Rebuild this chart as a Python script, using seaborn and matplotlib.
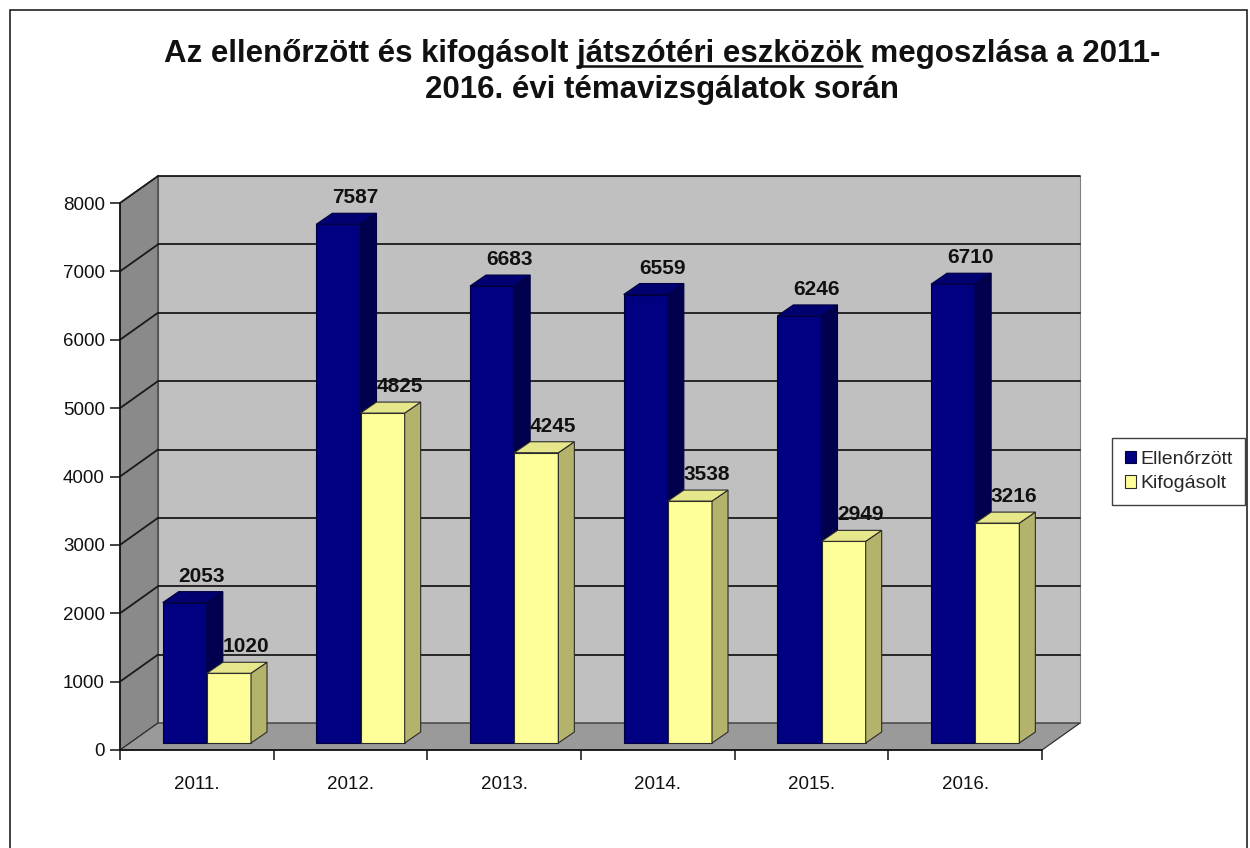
import matplotlib
matplotlib.use("Agg")
import matplotlib.pyplot as plt
from matplotlib.patches import Polygon, Rectangle, Patch
from matplotlib.lines import Line2D
import seaborn as sns
import pandas as pd

# ---- data ----
years = ["2011.", "2012.", "2013.", "2014.", "2015.", "2016."]
ellenorzott = [2053, 7587, 6683, 6559, 6246, 6710]
kifogasolt = [1020, 4825, 4245, 3538, 2949, 3216]
series_names = ["Ellenőrzött", "Kifogásolt"]
y_ticks = [0, 1000, 2000, 3000, 4000, 5000, 6000, 7000, 8000]
title_line1 = "Az ellenőrzött és kifogásolt játszótéri eszközök megoszlása a 2011-"
title_line2 = "2016. évi témavizsgálatok során"
underlined = "játszótéri eszközök"

front_colors = {"Ellenőrzött": "#000080", "Kifogásolt": "#FFFF99"}
side_colors = {"Ellenőrzött": "#00004E", "Kifogásolt": "#B3B36B"}
top_colors = {"Ellenőrzött": "#000070", "Kifogásolt": "#E6E68A"}
edge_colors = {"Ellenőrzött": "#000040", "Kifogásolt": "#2A2A2A"}

sns.set_theme(style="white")
plt.rcParams['font.family'] = ['Liberation Sans', 'DejaVu Sans']

W, H = 1250, 848
fig = plt.figure(figsize=(W / 100, H / 100), dpi=100)
fig.patch.set_facecolor("white")
ax = fig.add_axes([120 / W, 98 / H, 922 / W, 547 / H])

df = pd.DataFrame({
    "year": years * 2,
    "value": ellenorzott + kifogasolt,
    "series": [series_names[0]] * len(years) + [series_names[1]] * len(years),
})

sns.barplot(data=df, x="year", y="value", hue="series", hue_order=series_names,
            palette=front_colors, width=0.575, gap=0, saturation=1,
            legend=False, ax=ax, errorbar=None)
bars = list(ax.patches)

ax.set_xlim(-0.5, len(years) - 0.5)
ax.set_ylim(0, 8000)
ax.set_facecolor("none")

# pixel -> data conversion
p0 = ax.transData.transform((0, 0))
p1 = ax.transData.transform((1, 1000))
px_x = p1[0] - p0[0]
px_y = (p1[1] - p0[1]) / 1000.0
def dx(px):
    return px / px_x
def dy(px):
    return px / px_y

FDX, FDY = dx(38), dy(27)      # wall / floor depth
BOX, BOY = dx(10), dy(7)       # bar front offset from front plane
BDX, BDY = dx(16), dy(11)      # bar depth

xl, xr = -0.5, len(years) - 0.5

# back wall
ax.add_patch(Rectangle((xl + FDX, FDY), xr - xl, 8000, facecolor="#C0C0C0",
                       edgecolor="#808080", lw=0.8, zorder=0.1, clip_on=False))
# left wall
ax.add_patch(Polygon([(xl, 0), (xl, 8000), (xl + FDX, 8000 + FDY), (xl + FDX, FDY)],
                     closed=True, facecolor="#8A8A8A", edgecolor="#303030", lw=0.8,
                     zorder=0.2, clip_on=False))
# grid lines on back wall and left wall
for t in y_ticks[1:]:
    ax.add_line(Line2D([xl + FDX, xr + FDX], [t + FDY, t + FDY], color="#1a1a1a",
                       lw=1.3, zorder=0.5, clip_on=False))
    ax.add_line(Line2D([xl, xl + FDX], [t, t + FDY], color="#1a1a1a",
                       lw=1.3, zorder=0.5, clip_on=False))
# floor
ax.add_patch(Polygon([(xl, 0), (xr, 0), (xr + FDX, FDY), (xl + FDX, FDY)],
                     closed=True, facecolor="#9A9A9A", edgecolor="#303030", lw=0.9,
                     zorder=0.6, clip_on=False))

# 3D bars
n = len(years)
for i, p in enumerate(bars):
    s = series_names[i // n]
    val = (ellenorzott if i < n else kifogasolt)[i % n]
    x0 = p.get_x() + BOX
    w = p.get_width()
    h = p.get_height()
    p.set_x(x0)
    p.set_y(BOY)
    z = 3 if s == series_names[0] else 4
    p.set_zorder(z)
    p.set_edgecolor(edge_colors[s])
    p.set_linewidth(0.8)
    p.set_clip_on(False)
    x1 = x0 + w
    yb = BOY
    yt = BOY + h
    ax.add_patch(Polygon([(x1, yb), (x1, yt), (x1 + BDX, yt + BDY), (x1 + BDX, yb + BDY)],
                         closed=True, facecolor=side_colors[s], edgecolor=edge_colors[s],
                         lw=0.8, zorder=z, clip_on=False))
    ax.add_patch(Polygon([(x0, yt), (x1, yt), (x1 + BDX, yt + BDY), (x0 + BDX, yt + BDY)],
                         closed=True, facecolor=top_colors[s], edgecolor=edge_colors[s],
                         lw=0.8, zorder=z, clip_on=False))
    ax.annotate(f"{val}", xy=(x0 + w / 2, yt), xytext=(17, 17),
                textcoords="offset pixels", ha="center", va="bottom",
                fontsize=15, fontweight="bold", color="#111111", zorder=6,
                annotation_clip=False)

# axes styling
for side in ["top", "right"]:
    ax.spines[side].set_visible(False)
for side in ["left", "bottom"]:
    ax.spines[side].set_color("#111111")
    ax.spines[side].set_linewidth(1.2)
    ax.spines[side].set_zorder(2)

ax.set_yticks(y_ticks)
ax.set_yticklabels([str(t) for t in y_ticks])
ax.tick_params(axis="y", direction="out", length=7, width=1.1, color="#111111",
               pad=4, labelsize=13.5, labelcolor="#111111", left=True)
ax.set_xticks(range(len(years)))
ax.set_xticklabels(years)
ax.tick_params(axis="x", which="major", length=0, pad=19, labelsize=13.5,
               labelcolor="#111111")
ax.set_xticks([i - 0.5 for i in range(len(years) + 1)], minor=True)
ax.tick_params(axis="x", which="minor", direction="out", length=7, width=1.1,
               color="#111111", bottom=True)
ax.set_xlabel("")
ax.set_ylabel("")

# legend
handles = [Patch(facecolor=front_colors[s], edgecolor=edge_colors[s], lw=0.8)
           for s in series_names]
leg = ax.legend(handles, series_names, loc="center left",
                bbox_to_anchor=(1112 / W, 1 - 471.5 / H), bbox_transform=fig.transFigure,
                fontsize=14, frameon=True, fancybox=False, handlelength=0.6,
                handleheight=0.6, handletextpad=0.2, borderpad=0.65,
                labelspacing=0.4, borderaxespad=0)
leg.get_frame().set_edgecolor("#111111")
leg.get_frame().set_linewidth(1.0)
leg.get_frame().set_facecolor("white")

# title with underlined part
tkw = dict(fontsize=22.5, fontweight="bold", color="#111111")
cx = 662 / W
fig.text(cx, 1 - 62 / H, title_line1, ha="center", va="baseline", **tkw)
fig.text(cx, 1 - 98 / H, title_line2, ha="center", va="baseline", **tkw)
renderer = fig.canvas.get_renderer()

def text_width(s):
    t = fig.text(0, 0, s, **tkw)
    wpx = t.get_window_extent(renderer=renderer).width
    t.remove()
    return wpx

full_w = text_width(title_line1)
idx = title_line1.index(underlined)
left_px = cx * W - full_w / 2
end_px = left_px + text_width(title_line1[:idx + len(underlined)])
start_px = left_px + full_w - text_width(title_line1[idx:])
uy = 1 - 66 / H
fig.add_artist(Line2D([start_px / W, end_px / W], [uy, uy], color="#111111", lw=1.8,
                      transform=fig.transFigure))

# outer frame
fig.add_artist(Rectangle((10 / W, -0.2), (1247 - 10) / W, 1.2 - 10 / H,
                         transform=fig.transFigure, fill=False, edgecolor="#222222",
                         lw=1.2))

fig.savefig("out.png", dpi=100)
